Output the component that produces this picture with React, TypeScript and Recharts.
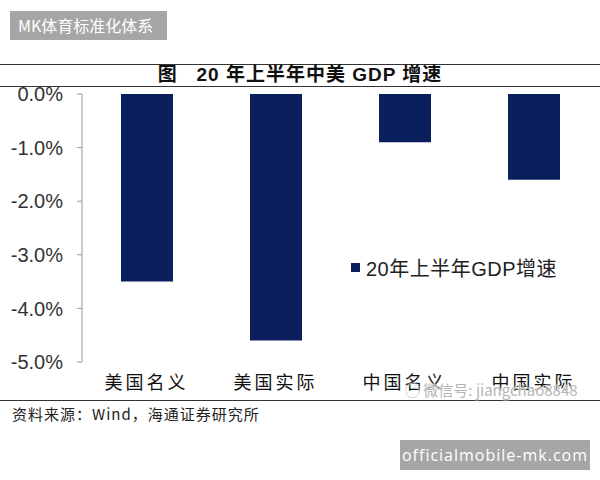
import { Bar, BarChart, Legend, XAxis, YAxis } from 'recharts';

// 20年上半年中美GDP增速 — four negative bars hanging from 0%, axis line on top.

const categories = ['美国名义', '美国实际', '中国名义', '中国实际'];
const growth = [-3.5, -4.6, -0.9, -1.6];
const yTicks = [0, -1, -2, -3, -4, -5];
const seriesName = '20年上半年GDP增速';

const data = categories.map((c, i) => ({ name: c, value: growth[i] }));

const CJK = '"Liberation Sans", Arial, "Noto Sans CJK SC", sans-serif';
const NAVY = '#0b1f5d';

function LegendBox() {
  return (
    <div style={{ display: 'flex', alignItems: 'center', fontFamily: CJK, fontSize: 20, color: '#222' }}>
      <span style={{ width: 9, height: 9, background: NAVY, display: 'inline-block', marginRight: 6 }} />
      <span style={{ letterSpacing: 0.5 }}>{seriesName}</span>
    </div>
  );
}

export default function App() {
  return (
    <div style={{ position: 'absolute', left: 0, top: 0, width: 600, height: 480, background: '#fff', overflow: 'hidden' }}>
      <div
        style={{
          position: 'absolute', left: 10, top: 11, width: 157, height: 29, background: '#a6a6a6', color: '#fff',
          fontFamily: '"Noto Sans CJK SC", sans-serif', fontSize: 16, lineHeight: '29px', paddingLeft: 8, boxSizing: 'border-box',
        }}
      >
        MK体育标准化体系
      </div>

      <div style={{ position: 'absolute', left: 0, top: 64, width: 600, borderTop: '1.5px solid #333' }} />
      <div
        style={{
          position: 'absolute', left: 0, top: 65, width: 600, textAlign: 'center', fontFamily: CJK,
          fontWeight: 'bold', fontSize: 19, lineHeight: '20px', color: '#111', whiteSpace: 'pre', letterSpacing: 1,
        }}
      >
        {'图   20 年上半年中美 GDP 增速'}
      </div>
      <div style={{ position: 'absolute', left: 0, top: 86, width: 600, borderTop: '1.5px solid #333' }} />

      <BarChart
        width={600}
        height={480}
        data={data}
        margin={{ top: 94, right: 2, bottom: 88, left: 0 }}
        barSize={52}
      >
        <XAxis
          dataKey="name"
          axisLine={false}
          tickLine={false}
          tickSize={0}
          tickMargin={14}
          height={30}
          interval={0}
          tick={{ fontSize: 18, fill: '#111', fontFamily: '"Noto Sans CJK SC", sans-serif', letterSpacing: 3 }}
        />
        <XAxis
          xAxisId="sep"
          type="number"
          orientation="top"
          domain={[0, 4]}
          ticks={[1, 2, 3]}
          height={0}
          mirror
          tick={false}
          tickSize={5}
          axisLine={{ stroke: '#9a9a9a' }}
          tickLine={{ stroke: '#9a9a9a' }}
        />
        <YAxis
          type="number"
          domain={[-5, 0]}
          ticks={yTicks}
          interval={0}
          width={82}
          tickSize={5}
          tickMargin={14}
          axisLine={{ stroke: '#9a9a9a' }}
          tickLine={{ stroke: '#9a9a9a' }}
          tickFormatter={(v) => `${Number(v).toFixed(1)}%`}
          tick={{ fontSize: 20, fill: '#333', fontFamily: CJK }}
        />
        <Legend
          layout="horizontal"
          verticalAlign="middle"
          align="center"
          content={() => <LegendBox />}
          wrapperStyle={{ left: 351, top: 253, width: 240 }}
        />
        <Bar dataKey="value" name={seriesName} fill={NAVY} isAnimationActive={false} />
      </BarChart>

      <div style={{ position: 'absolute', left: 0, top: 400, width: 600, borderTop: '1.5px solid #333' }} />
      <div
        style={{
          position: 'absolute', left: 12, top: 403, fontFamily: '"Noto Sans CJK SC", sans-serif', fontSize: 15,
          color: '#222', letterSpacing: 1,
        }}
      >
        资料来源：Wind，海通证券研究所
      </div>

      <div
        style={{
          position: 'absolute', left: 405, top: 379, fontFamily: '"Noto Sans CJK SC", sans-serif', fontSize: 15,
          color: '#b5b5b5', textShadow: '0 0 2px #fff, 0 0 2px #fff',
        }}
      >
        ◯ 微信号: jiangchao8848
      </div>

      <div
        style={{
          position: 'absolute', left: 400, top: 440, width: 190, height: 30, background: '#a6a6a6', color: '#fff',
          fontFamily: '"Open Sans", sans-serif', fontSize: 16, lineHeight: '30px', textAlign: 'center', letterSpacing: 1,
        }}
      >
        officialmobile-mk.com
      </div>
    </div>
  );
}
